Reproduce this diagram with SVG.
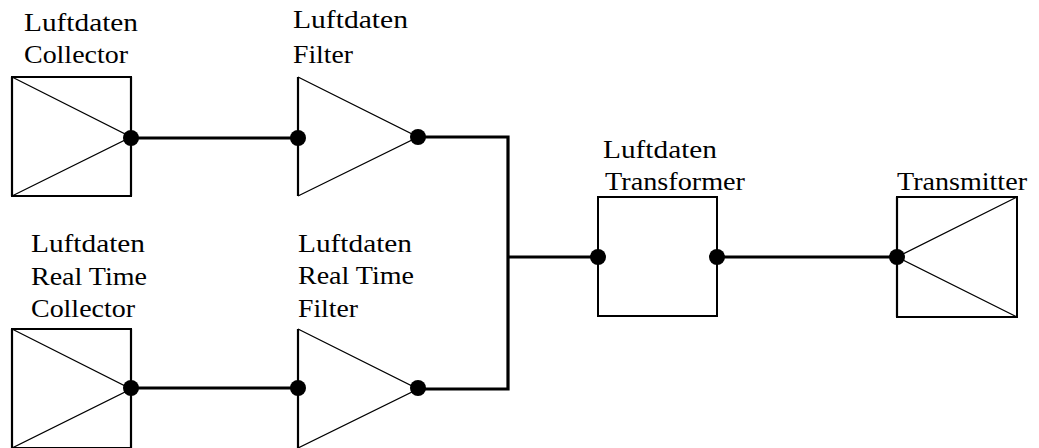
<svg xmlns="http://www.w3.org/2000/svg" width="1039" height="448" viewBox="0 0 1039 448">
  <style>
    .lbl { font-family: "Liberation Serif", "DejaVu Serif", serif; font-size: 26px; fill: #000; }
    .box { fill: #fff; stroke: #000; stroke-width: 2; }
    .edge { fill: none; stroke: #000; stroke-width: 2.2; }
    .diag { fill: none; stroke: #000; stroke-width: 1.3; }
    .wire { fill: none; stroke: #000; stroke-width: 3.2; stroke-linejoin: miter; }
    .port { fill: #000; }
  </style>
  <defs>
    <!-- source: square with a right-pointing triangle, output on the right edge -->
    <g id="source">
      <rect class="box" x="0" y="0" width="119" height="119"/>
      <path class="diag" d="M0,0 L119,60 L0,119"/>
      <path class="edge" d="M0,0 V119 M119,0 V119"/>
    </g>
    <!-- filter: open triangle with input on the left edge -->
    <g id="filter">
      <path class="diag" d="M0,0 L120,60 L0,119"/>
      <path class="edge" d="M0,0 V119"/>
    </g>
  </defs>

  <!-- connectors -->
  <g id="connectors">
    <path class="wire" d="M131,138 H298"/>
    <path class="wire" d="M131,388 H298"/>
    <path class="wire" d="M418,137 H508 V389 H418"/>
    <path class="wire" d="M508,257 H598"/>
    <path class="wire" d="M717,257 H897"/>
  </g>

  <g id="collector">
    <use href="#source" x="12" y="77"/>
    <circle class="port" cx="131" cy="138" r="8"/>
    <text class="lbl" x="24" y="31" textLength="114" lengthAdjust="spacingAndGlyphs">Luftdaten</text>
    <text class="lbl" x="24" y="63" textLength="104" lengthAdjust="spacingAndGlyphs">Collector</text>
  </g>

  <g id="filter-main">
    <use href="#filter" x="298" y="77"/>
    <circle class="port" cx="298" cy="138" r="8"/>
    <circle class="port" cx="418" cy="137" r="8"/>
    <text class="lbl" x="293" y="28" textLength="115" lengthAdjust="spacingAndGlyphs">Luftdaten</text>
    <text class="lbl" x="293" y="63" textLength="60" lengthAdjust="spacingAndGlyphs">Filter</text>
  </g>

  <g id="rt-collector">
    <use href="#source" x="12" y="329"/>
    <circle class="port" cx="131" cy="388" r="8"/>
    <text class="lbl" x="31" y="252" textLength="114" lengthAdjust="spacingAndGlyphs">Luftdaten</text>
    <text class="lbl" x="31" y="285" textLength="116" lengthAdjust="spacingAndGlyphs">Real Time</text>
    <text class="lbl" x="31" y="317" textLength="104" lengthAdjust="spacingAndGlyphs">Collector</text>
  </g>

  <g id="rt-filter">
    <use href="#filter" x="298" y="329"/>
    <circle class="port" cx="298" cy="388" r="8"/>
    <circle class="port" cx="418" cy="388" r="8"/>
    <text class="lbl" x="298" y="252" textLength="114" lengthAdjust="spacingAndGlyphs">Luftdaten</text>
    <text class="lbl" x="298" y="284" textLength="116" lengthAdjust="spacingAndGlyphs">Real Time</text>
    <text class="lbl" x="298" y="317" textLength="60" lengthAdjust="spacingAndGlyphs">Filter</text>
  </g>

  <g id="transformer">
    <rect class="box" x="598" y="197" width="119" height="119" stroke-width="2.4"/>
    <circle class="port" cx="598" cy="257" r="8"/>
    <circle class="port" cx="717" cy="257" r="8"/>
    <text class="lbl" x="603" y="158" textLength="114" lengthAdjust="spacingAndGlyphs">Luftdaten</text>
    <text class="lbl" x="605" y="190" textLength="140" lengthAdjust="spacingAndGlyphs">Transformer</text>
  </g>

  <g id="transmitter">
    <rect class="box" x="897" y="197" width="120" height="120" stroke-width="1.6"/>
    <path class="diag" d="M1017,197 L897,257 L1017,317"/>
    <path class="edge" d="M897,197 V317" stroke-width="2.6"/>
    <circle class="port" cx="897" cy="257" r="8"/>
    <text class="lbl" x="897" y="190" textLength="130" lengthAdjust="spacingAndGlyphs">Transmitter</text>
  </g>
</svg>
